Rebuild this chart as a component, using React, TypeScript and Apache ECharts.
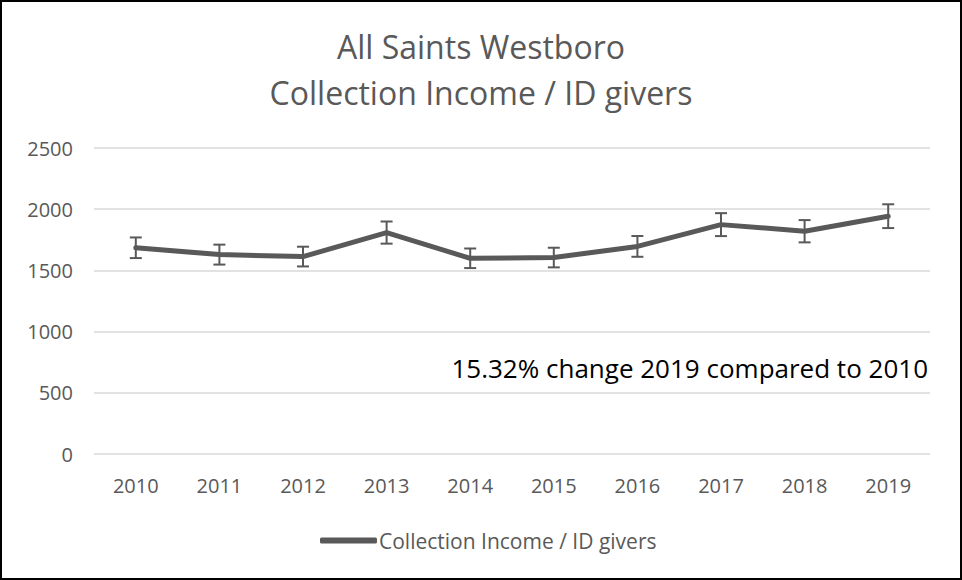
import React, { useEffect, useRef } from 'react';
import * as echarts from 'echarts';

const years: string[] = ['2010', '2011', '2012', '2013', '2014', '2015', '2016', '2017', '2018', '2019'];
const incomePerGiver: number[] = [1685, 1629, 1613, 1809, 1599, 1605, 1696, 1874, 1820, 1943];
const errorPercent = 0.05; // Excel-style percentage error bars
const yMin = 0;
const yMax = 2500;
const yInterval = 500;
const seriesName = 'Collection Income / ID givers';
const titleLines = ['All Saints Westboro', 'Collection Income / ID givers'];
const annotation = '15.32% change 2019 compared to 2010';

const FONT = '"Open Sans", sans-serif';
const GREY = '#595959';

export default function App() {
  const ref = useRef<HTMLDivElement>(null);
  useEffect(() => {
    document.body.style.margin = '0';
    if (!ref.current) return;
    const chart = echarts.init(ref.current, undefined, { renderer: 'svg' });
    const errData = incomePerGiver.map((v, i) => [i, v * (1 - errorPercent), v * (1 + errorPercent)]);
    chart.setOption({
      animation: false,
      backgroundColor: '#fff',
      textStyle: { fontFamily: FONT },
      title: {
        text: titleLines.join('\n'),
        left: 'center',
        top: 16,
        textStyle: { fontFamily: FONT, fontSize: 32, fontWeight: 'normal', color: GREY, lineHeight: 46 },
      },
      legend: {
        data: [{ name: seriesName, icon: 'roundRect' }],
        bottom: 22,
        left: 313,
        itemWidth: 57,
        itemHeight: 6,
        textStyle: { fontFamily: FONT, fontSize: 21, color: GREY, padding: [0, 0, 0, -3] },
      },
      grid: { left: 92, right: 30, top: 146, bottom: 124 },
      xAxis: {
        type: 'category',
        data: years,
        boundaryGap: true,
        axisLine: { show: false },
        axisTick: { show: false },
        axisLabel: { fontFamily: FONT, fontSize: 20, color: GREY, margin: 21 },
      },
      yAxis: {
        type: 'value',
        min: yMin,
        max: yMax,
        interval: yInterval,
        axisLine: { show: false },
        axisTick: { show: false },
        axisLabel: { fontFamily: FONT, fontSize: 20, color: GREY, margin: 21, formatter: (v: number) => String(v) },
        splitLine: { lineStyle: { color: '#d9d9d9', width: 1.5 } },
      },
      series: [
        {
          name: seriesName,
          type: 'line',
          data: incomePerGiver,
          symbol: 'none',
          itemStyle: { color: GREY },
          lineStyle: { color: GREY, width: 5, cap: 'round', join: 'round' },
          z: 2,
        },
        {
          name: 'error',
          type: 'custom',
          data: errData,
          encode: { x: 0, y: [1, 2] },
          z: 3,
          renderItem: (params: any, api: any) => {
            const x = api.value(0);
            const top = api.coord([x, api.value(2)]);
            const bot = api.coord([x, api.value(1)]);
            const hw = 6;
            const style = { stroke: GREY, lineWidth: 2 };
            return {
              type: 'group',
              children: [
                { type: 'line', shape: { x1: top[0], y1: top[1], x2: bot[0], y2: bot[1] }, style },
                { type: 'line', shape: { x1: top[0] - hw, y1: top[1], x2: top[0] + hw, y2: top[1] }, style },
                { type: 'line', shape: { x1: bot[0] - hw, y1: bot[1], x2: bot[0] + hw, y2: bot[1] }, style },
              ],
            };
          },
        },
      ],
      graphic: [
        {
          type: 'text',
          right: 32,
          top: 353,
          style: { text: annotation, fontFamily: FONT, fontSize: 26, fill: '#000' },
        },
      ],
    });
    return () => chart.dispose();
  }, []);
  return (
    <div
      ref={ref}
      style={{ width: 962, height: 580, border: '2px solid #000', boxSizing: 'border-box' }}
    />
  );
}
